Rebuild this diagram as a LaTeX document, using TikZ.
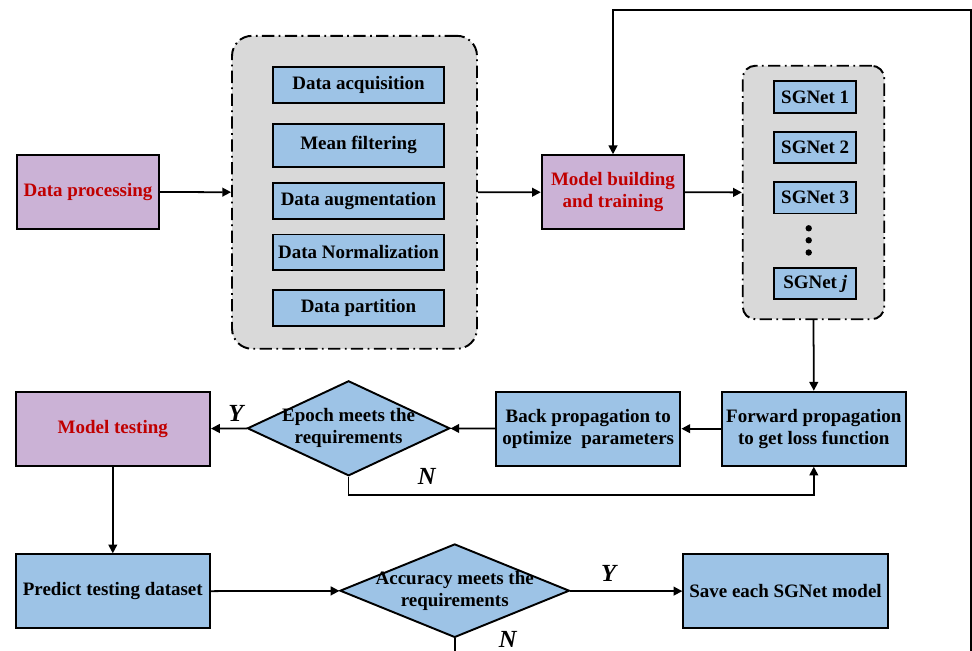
\documentclass[tikz,border=0pt]{standalone}
\usepackage{fontspec}
\setmainfont{Liberation Serif}
\usetikzlibrary{positioning,shapes.geometric,arrows.meta}

\definecolor{stagepurple}{RGB}{203,178,214}
\definecolor{taskblue}{RGB}{157,195,230}
\definecolor{groupgray}{RGB}{217,217,217}
\definecolor{stagered}{RGB}{192,0,0}

\begin{document}
\begin{tikzpicture}[x=0.02cm,y=-0.02cm,node distance=0.34cm,
    font=\fontsize{10.8}{12.6}\selectfont\bfseries,
    stage/.style={draw, rectangle, line width=1.1pt, fill=stagepurple, text=stagered, align=center, inner sep=0pt, minimum height=1.48cm},
    task/.style={draw, rectangle, line width=1.1pt, fill=taskblue, align=center, inner sep=0pt},
    check/.style={draw, diamond, line width=1.1pt, fill=taskblue, inner sep=0pt},
    group/.style={draw, line width=1.1pt, fill=groupgray, inner sep=0pt, dash pattern=on 7pt off 2.5pt on 1pt off 2.5pt},
    flow/.style={line width=1pt, -{Triangle[length=5pt,width=5pt]}},
    yn/.style={font=\fontsize{14}{14}\selectfont\bfseries\itshape}]
    \clip (0,0) rectangle (972,651);
    \useasboundingbox (0,0) rectangle (972,651);

    % Nodes
    \node[stage, minimum width=2.84cm] (processing) at (88,192) {Data processing};
    \node[group, rounded corners=0.4cm, minimum width=4.9cm, minimum height=6.26cm] (prepgroup) at (354.5,192.3) {};
    \node[task, minimum width=3.42cm, minimum height=0.72cm] (acquisition) at (358.5,84.7) {Data acquisition};
    \node[task, minimum width=3.42cm, minimum height=0.87cm, below=0.38cm of acquisition] (filtering) {Mean filtering};
    \node[task, minimum width=3.42cm, minimum height=0.73cm, below=0.27cm of filtering] (augmentation) {Data augmentation};
    \node[task, minimum width=3.42cm, minimum height=0.72cm, below=0.27cm of augmentation] (normalization) {Data Normalization};
    \node[task, minimum width=3.42cm, minimum height=0.72cm, below=0.36cm of normalization] (partition) {Data partition};

    \node[stage, minimum width=2.85cm] (building) at (613,192.2) {Model building\\and training};
    \node[group, rounded corners=0.25cm, minimum width=2.83cm, minimum height=5.07cm] (netgroup) at (813.5,192.5) {};
    \node[task, minimum width=1.64cm, minimum height=0.63cm] (net1) at (815.2,96.9) {SGNet 1};
    \node[task, minimum width=1.64cm, minimum height=0.63cm, below=of net1] (net2) {SGNet 2};
    \node[task, minimum width=1.64cm, minimum height=0.63cm, below=of net2] (net3) {SGNet 3};
    \node[task, minimum width=1.64cm, minimum height=0.63cm] (netj) at (815.2,283.5) {SGNet \textit{j}};
    \fill (808.7,228.3) circle (3.2) (808.7,240.3) circle (3.2) (808.7,252.5) circle (3.2);

    \node[task, minimum width=3.69cm, minimum height=1.48cm] (forward) at (813.8,428.7) {Forward propagation\\to get loss function};
    \node[task, minimum width=3.69cm, minimum height=1.48cm] (backward) at (588.2,428.7) {Back propagation to\\optimize~ parameters};
    \node[check, minimum width=4.05cm, minimum height=1.9cm] (epoch) at (348.6,428.3) {};
    \node[align=center] (epochtext) at (epoch) {Epoch meets the\\requirements};
    \node[stage, minimum width=3.89cm] (testing) at (112.8,428.7) {Model testing};

    \node[task, minimum width=3.89cm, minimum height=1.48cm] (predict) at (112.8,591.3) {Predict testing dataset};
    \node[check, minimum width=4.59cm, minimum height=1.87cm] (accuracy) at (454.7,590.7) {};
    \node[align=center] (accuracytext) at (accuracy) {Accuracy meets the\\requirements};
    \node[task, minimum width=4.09cm, minimum height=1.48cm] (save) at (785.5,591.3) {Save each SGNet model};

    \node[yn] (epochyes) at (236,413) {Y};
    \node[yn] (epochno) at (426.7,476) {N};
    \node[yn] (accuracyyes) at (608.7,573) {Y};
    \node[yn] (accuracyno) at (507.7,639.5) {N};

    \coordinate (loopbottom) at (971,690);
    \coordinate (looptop) at (971,10);

    % Arrows
    \draw[flow] (processing) -- (prepgroup);
    \draw[flow] (prepgroup) -- (building);
    \draw[flow] (building) -- (netgroup);
    \draw[flow] (netgroup.south) -- (forward.north);
    \draw[flow] (forward) -- (backward);
    \draw[flow] (backward) -- (epoch);
    \draw[flow] (epoch) -- (testing);
    \draw[flow] (epoch.south) -- ++(0,18) -| (forward.south);
    \draw[flow] (testing) -- (predict);
    \draw[flow] (predict) -- (accuracy);
    \draw[flow] (accuracy) -- (save);
    \draw[flow] (accuracy.south) |- (loopbottom) -- (looptop) -| (building.north);

\end{tikzpicture}
\end{document}
